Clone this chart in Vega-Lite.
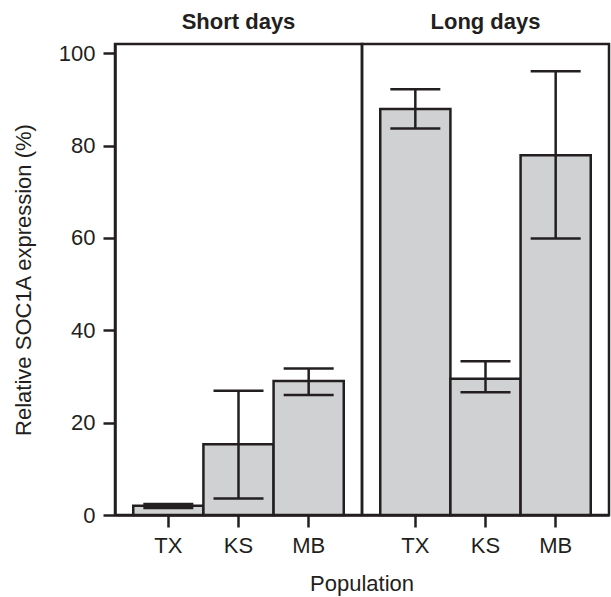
{
  "$schema": "https://vega.github.io/schema/vega-lite/v6.json",
  "padding": {"left": 12, "top": 11, "right": 2, "bottom": 2},
  "background": "white",
  "bounds": "flush",
  "config": {
    "font": "Liberation Sans",
    "view": {"stroke": "#231f20", "strokeWidth": 2.5},
    "axis": {
      "grid": false,
      "domainColor": "#231f20",
      "domainWidth": 2.5,
      "tickColor": "#231f20",
      "tickWidth": 2.5,
      "tickSize": 12,
      "labelFontSize": 22,
      "labelColor": "#231f20",
      "titleFontSize": 22,
      "titleFontWeight": "normal",
      "titleColor": "#231f20",
      "labelPadding": 8
    }
  },
  "data": {
    "values": [
      {"cond": "Short days", "pop": "TX", "mean": 2.0, "lo": 1.5, "hi": 2.4},
      {"cond": "Short days", "pop": "KS", "mean": 15.3, "lo": 3.6, "hi": 26.9},
      {"cond": "Short days", "pop": "MB", "mean": 29.0, "lo": 26.0, "hi": 31.7},
      {"cond": "Long days", "pop": "TX", "mean": 87.9, "lo": 83.7, "hi": 92.2},
      {"cond": "Long days", "pop": "KS", "mean": 29.5, "lo": 26.6, "hi": 33.3},
      {"cond": "Long days", "pop": "MB", "mean": 77.9, "lo": 59.9, "hi": 96.1}
    ]
  },
  "spacing": 0,
  "facet": {
    "column": {
      "field": "cond",
      "type": "nominal",
      "sort": ["Short days", "Long days"],
      "header": {
        "title": "Population",
        "titleOrient": "bottom",
        "titleFontSize": 22,
        "titleFontWeight": "normal",
        "titleColor": "#231f20",
        "titlePadding": 8,
        "labelOrient": "top",
        "labelFontSize": 22,
        "labelFontWeight": "bold",
        "labelColor": "#231f20",
        "labelPadding": 10
      }
    }
  },
  "spec": {
    "width": 247,
    "height": 471,
    "encoding": {
      "x": {
        "field": "pop",
        "type": "nominal",
        "sort": ["TX", "KS", "MB"],
        "scale": {"paddingInner": 0, "paddingOuter": 0.26},
        "axis": {"title": null, "labelAngle": 0, "labelPadding": 8}
      }
    },
    "layer": [
      {
        "mark": {"type": "bar", "fill": "#d0d1d3", "stroke": "#231f20", "strokeWidth": 2.5},
        "encoding": {
          "y": {
            "field": "mean",
            "type": "quantitative",
            "scale": {"domain": [0, 102], "nice": false},
            "axis": {"title": "Relative SOC1A expression (%)", "values": [0, 20, 40, 60, 80, 100], "titlePadding": 23, "labelPadding": 8}
          }
        }
      },
      {
        "mark": {"type": "rule", "color": "#231f20", "strokeWidth": 2.5},
        "encoding": {
          "y": {"field": "lo", "type": "quantitative"},
          "y2": {"field": "hi"}
        }
      },
      {
        "mark": {"type": "tick", "color": "#231f20", "size": 50, "thickness": 2.5, "opacity": 1},
        "encoding": {"y": {"field": "lo", "type": "quantitative"}}
      },
      {
        "mark": {"type": "tick", "color": "#231f20", "size": 50, "thickness": 2.5, "opacity": 1},
        "encoding": {"y": {"field": "hi", "type": "quantitative"}}
      }
    ]
  }
}
